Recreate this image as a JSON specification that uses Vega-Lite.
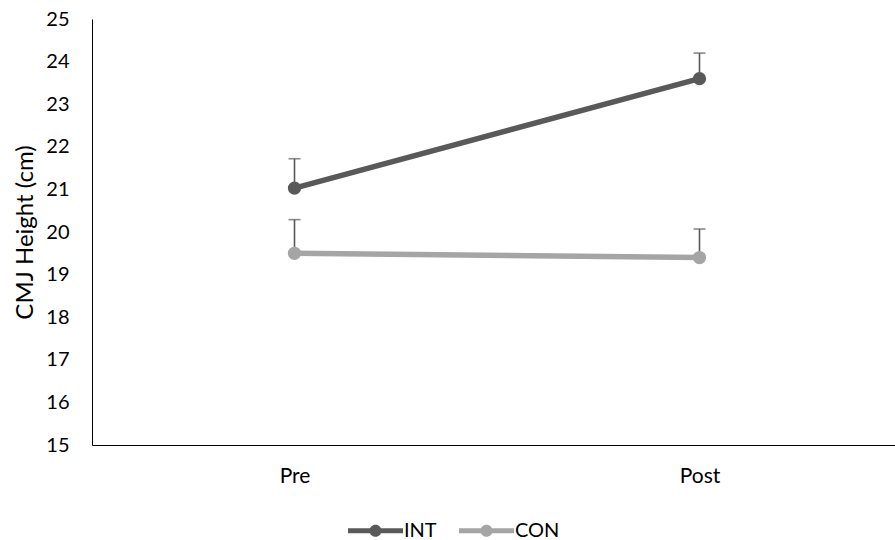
{
  "$schema": "https://vega.github.io/schema/vega-lite/v6.json",
  "autosize": "none",
  "width": 810,
  "height": 426,
  "padding": {"left": 92, "top": 19, "right": 0, "bottom": 95},
  "background": "white",
  "config": {
    "font": "Lato",
    "view": {"stroke": null},
    "axis": {"labelFont": "Lato", "titleFont": "Lato", "labelColor": "#000000", "titleColor": "#000000"}
  },
  "data": {
    "values": [
      {"time": "Pre", "group": "INT", "mean": 21.03, "upper": 21.72},
      {"time": "Post", "group": "INT", "mean": 23.6, "upper": 24.2},
      {"time": "Pre", "group": "CON", "mean": 19.5, "upper": 20.29},
      {"time": "Post", "group": "CON", "mean": 19.4, "upper": 20.07}
    ]
  },
  "encoding": {
    "x": {
      "field": "time", "type": "nominal", "sort": ["Pre", "Post"],
      "scale": {"type": "point", "padding": 0.5},
      "axis": {"title": null, "labelAngle": 0, "ticks": false, "grid": false, "domainColor": "#000000", "domainWidth": 1, "labelFontSize": 21, "labelPadding": 20}
    }
  },
  "layer": [
    {
      "mark": {"type": "rule", "color": "#595959", "strokeWidth": 1.6},
      "encoding": {
        "y": {"field": "mean", "type": "quantitative"},
        "y2": {"field": "upper"},
        "detail": {"field": "group"}
      }
    },
    {
      "mark": {"type": "tick", "color": "#595959", "thickness": 1.6, "size": 12, "orient": "horizontal"},
      "encoding": {
        "y": {"field": "upper", "type": "quantitative"},
        "detail": {"field": "group"}
      }
    },
    {
      "mark": {"type": "line", "strokeWidth": 5.5},
      "encoding": {
        "y": {"field": "mean", "type": "quantitative"},
        "color": {"field": "group", "type": "nominal", "scale": {"domain": ["INT", "CON"], "range": ["#595959", "#A5A5A5"]}}
      }
    },
    {
      "mark": {"type": "point", "filled": true, "opacity": 1, "shape": "circle", "size": 177},
      "encoding": {
        "y": {
          "field": "mean", "type": "quantitative",
          "scale": {"domain": [15, 25], "nice": false, "zero": false},
          "axis": {"title": "CMJ Height (cm)", "values": [15,16,17,18,19,20,21,22,23,24,25], "grid": false, "ticks": false, "domainColor": "#000000", "domainWidth": 1, "labelFontSize": 20, "labelPadding": 23, "titleFontSize": 24, "titleFontWeight": "normal", "titlePadding": 8}
        },
        "color": {
          "field": "group", "type": "nominal",
          "scale": {"domain": ["INT", "CON"], "range": ["#595959", "#A5A5A5"]},
          "legend": {
            "title": null, "orient": "none", "direction": "horizontal",
            "legendX": 256, "legendY": 484,
            "symbolType": "M-1,-0.09H1V0.09H-1Z M0.22,0A0.22,0.22 0 1,1 -0.22,0A0.22,0.22 0 1,1 0.22,0Z",
            "symbolSize": 3025, "symbolStrokeWidth": 0, "symbolOpacity": 1,
            "labelFontSize": 20, "labelColor": "#000000", "labelOffset": 1, "columnPadding": 22,
            "encode": {"symbols": {"update": {"fill": {"scale": "color", "field": "value"}, "fillOpacity": {"value": 1}}}}
          }
        }
      }
    }
  ]
}
